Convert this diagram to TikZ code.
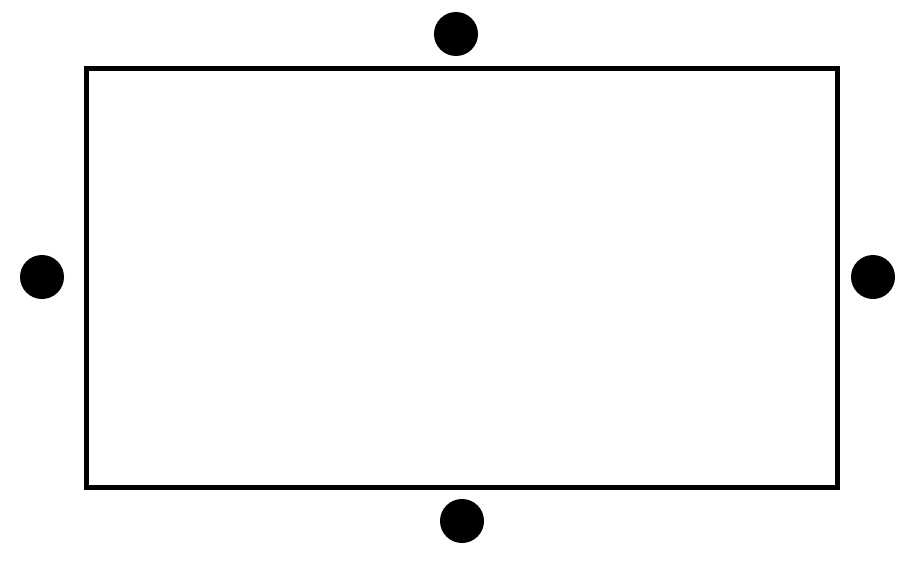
\documentclass[tikz,border=0pt]{standalone}
\begin{document}
\begin{tikzpicture}[x=1pt,y=-1pt,
  box/.style={draw=black,line width=5pt,line join=miter,minimum width=751pt,minimum height=419pt,inner sep=0pt,outer sep=0pt},
  dot/.style={circle,fill=black,minimum size=44pt,inner sep=0pt}]
\useasboundingbox (0,0) rectangle (913,562);
\node[box] (r) at (461.5,277.5) {};
\node[dot] (t) at (456,34) {};
\node[dot] (l) at (42,277) {};
\node[dot] (rt) at (873,277) {};
\node[dot] (b) at (462,521) {};
\end{tikzpicture}
\end{document}
